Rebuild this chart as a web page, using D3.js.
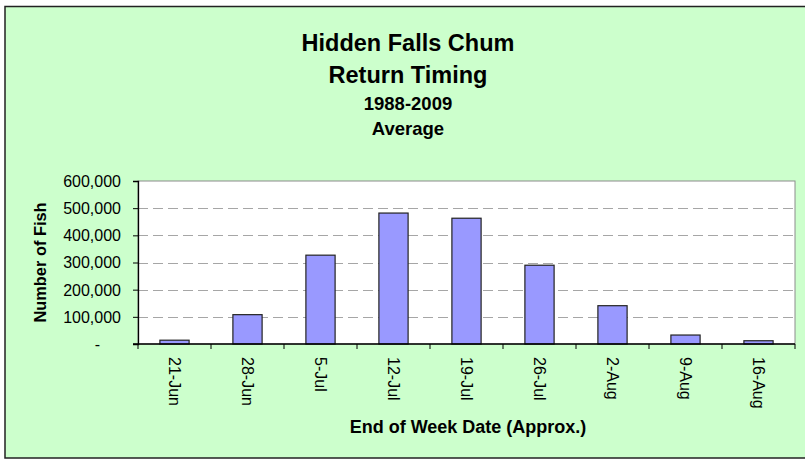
<!DOCTYPE html>
<html>
<head>
<meta charset="utf-8">
<script src="https://cdn.jsdelivr.net/npm/d3@7"></script>
<style>
  body { margin: 0; background: #fff; }
  svg { display: block; font-family: "Liberation Sans", Arial, sans-serif; }
  .grid line { stroke: #a6a6a6; stroke-dasharray: 10,5; }
</style>
</head>
<body>
<svg width="805" height="460"></svg>
<script>
var weeks = ["21-Jun", "28-Jun", "5-Jul", "12-Jul", "19-Jul", "26-Jul", "2-Aug", "9-Aug", "16-Aug"];
var fish = [14000, 108000, 327000, 482000, 463000, 290000, 141000, 33000, 12000];
var yTicks = [0, 100000, 200000, 300000, 400000, 500000, 600000];
var titleLines = ["Hidden Falls Chum", "Return Timing", "1988-2009", "Average"];

var svg = d3.select("svg"),
    width = +svg.attr("width"),
    height = +svg.attr("height");

// chart frame
svg.append("rect")
    .attr("x", 5)
    .attr("y", 6.5)
    .attr("width", 810)
    .attr("height", 451.5)
    .attr("fill", "#ccffcc")
    .attr("stroke", "#222")
    .attr("stroke-width", 1.5);

var pLeft = 138, pRight = 795, pTop = 181, pBottom = 344;

var slots = d3.scaleBand()
    .domain(weeks)
    .range([pLeft, pRight]);

var x = d3.scaleBand()
    .domain(weeks)
    .range([pLeft, pRight])
    .paddingInner(0.6)
    .paddingOuter(0.3);

var y = d3.scaleLinear()
    .domain([0, 600000])
    .range([pBottom, pTop]);

// plot area
svg.append("rect")
    .attr("x", pLeft)
    .attr("y", pTop)
    .attr("width", pRight - pLeft)
    .attr("height", pBottom - pTop)
    .attr("fill", "#fff")
    .attr("stroke", "#8c8c8c")
    .attr("stroke-width", 1);

svg.append("g")
    .attr("class", "grid")
  .selectAll("line")
  .data(yTicks.filter(function(d) { return d > 0 && d < 600000; }))
  .enter().append("line")
    .attr("x1", pLeft)
    .attr("x2", pRight)
    .attr("y1", function(d) { return Math.round(y(d)) + 0.5; })
    .attr("y2", function(d) { return Math.round(y(d)) + 0.5; });

// bars
svg.append("g")
  .selectAll("rect")
  .data(fish)
  .enter().append("rect")
    .attr("x", function(d, i) { return x(weeks[i]); })
    .attr("y", function(d) { return y(d); })
    .attr("width", x.bandwidth())
    .attr("height", function(d) { return pBottom - y(d); })
    .attr("fill", "#9999ff")
    .attr("stroke", "#222")
    .attr("stroke-width", 1.2);

// y axis
var yAxis = d3.axisLeft(y)
    .tickValues(yTicks)
    .tickSize(5)
    .tickPadding(12)
    .tickFormat(function(d) { return d == 0 ? "-" : d3.format(",")(d); });

var gy = svg.append("g")
    .attr("transform", "translate(" + pLeft + ",0)")
    .call(yAxis);
gy.select(".domain").attr("stroke", "#000").attr("stroke-width", 1.3);
gy.selectAll(".tick line").attr("stroke", "#000");
gy.selectAll(".tick text")
    .attr("font-size", 16)
    .attr("fill", "#000")
    .attr("dy", "0.34em")
    .attr("dx", function(d) { return d == 0 ? -21 : 0; });

// x axis: labels at band centres, ticks at band edges
var xAxis = d3.axisBottom(x)
    .tickSize(0)
    .tickSizeOuter(0);

var gx = svg.append("g")
    .attr("transform", "translate(0," + pBottom + ")")
    .call(xAxis);
gx.select(".domain").remove();
gx.selectAll(".tick text")
    .attr("font-size", 16)
    .attr("fill", "#000")
    .attr("transform", "rotate(90)")
    .attr("x", 13)
    .attr("y", 0)
    .attr("dy", "0.36em")
    .attr("text-anchor", "start");

var edges = weeks.map(function(w) { return slots(w); }).concat([pRight]);
gx.selectAll(".edge")
  .data(edges)
  .enter().append("line")
    .attr("class", "edge")
    .attr("x1", function(d) { return d; })
    .attr("x2", function(d) { return d; })
    .attr("y1", 0)
    .attr("y2", 5)
    .attr("stroke", "#000");

svg.append("line")
    .attr("x1", pLeft - 5)
    .attr("x2", pRight)
    .attr("y1", pBottom)
    .attr("y2", pBottom)
    .attr("stroke", "#000")
    .attr("stroke-width", 1.3);

// titles
var titleY = [51, 83, 110, 135];
var titleSize = [23.5, 23.5, 18.5, 18.5];
svg.append("g")
  .selectAll("text")
  .data(titleLines)
  .enter().append("text")
    .attr("x", 408)
    .attr("y", function(d, i) { return titleY[i]; })
    .attr("text-anchor", "middle")
    .attr("font-weight", "bold")
    .attr("font-size", function(d, i) { return titleSize[i]; })
    .text(function(d) { return d; });

svg.append("text")
    .attr("x", 468)
    .attr("y", 432.5)
    .attr("text-anchor", "middle")
    .attr("font-weight", "bold")
    .attr("font-size", 18)
    .text("End of Week Date (Approx.)");

svg.append("text")
    .attr("transform", "translate(45.5," + ((pTop + pBottom) / 2) + ") rotate(-90)")
    .attr("text-anchor", "middle")
    .attr("font-weight", "bold")
    .attr("font-size", 16.4)
    .text("Number of Fish");
</script>
</body>
</html>
